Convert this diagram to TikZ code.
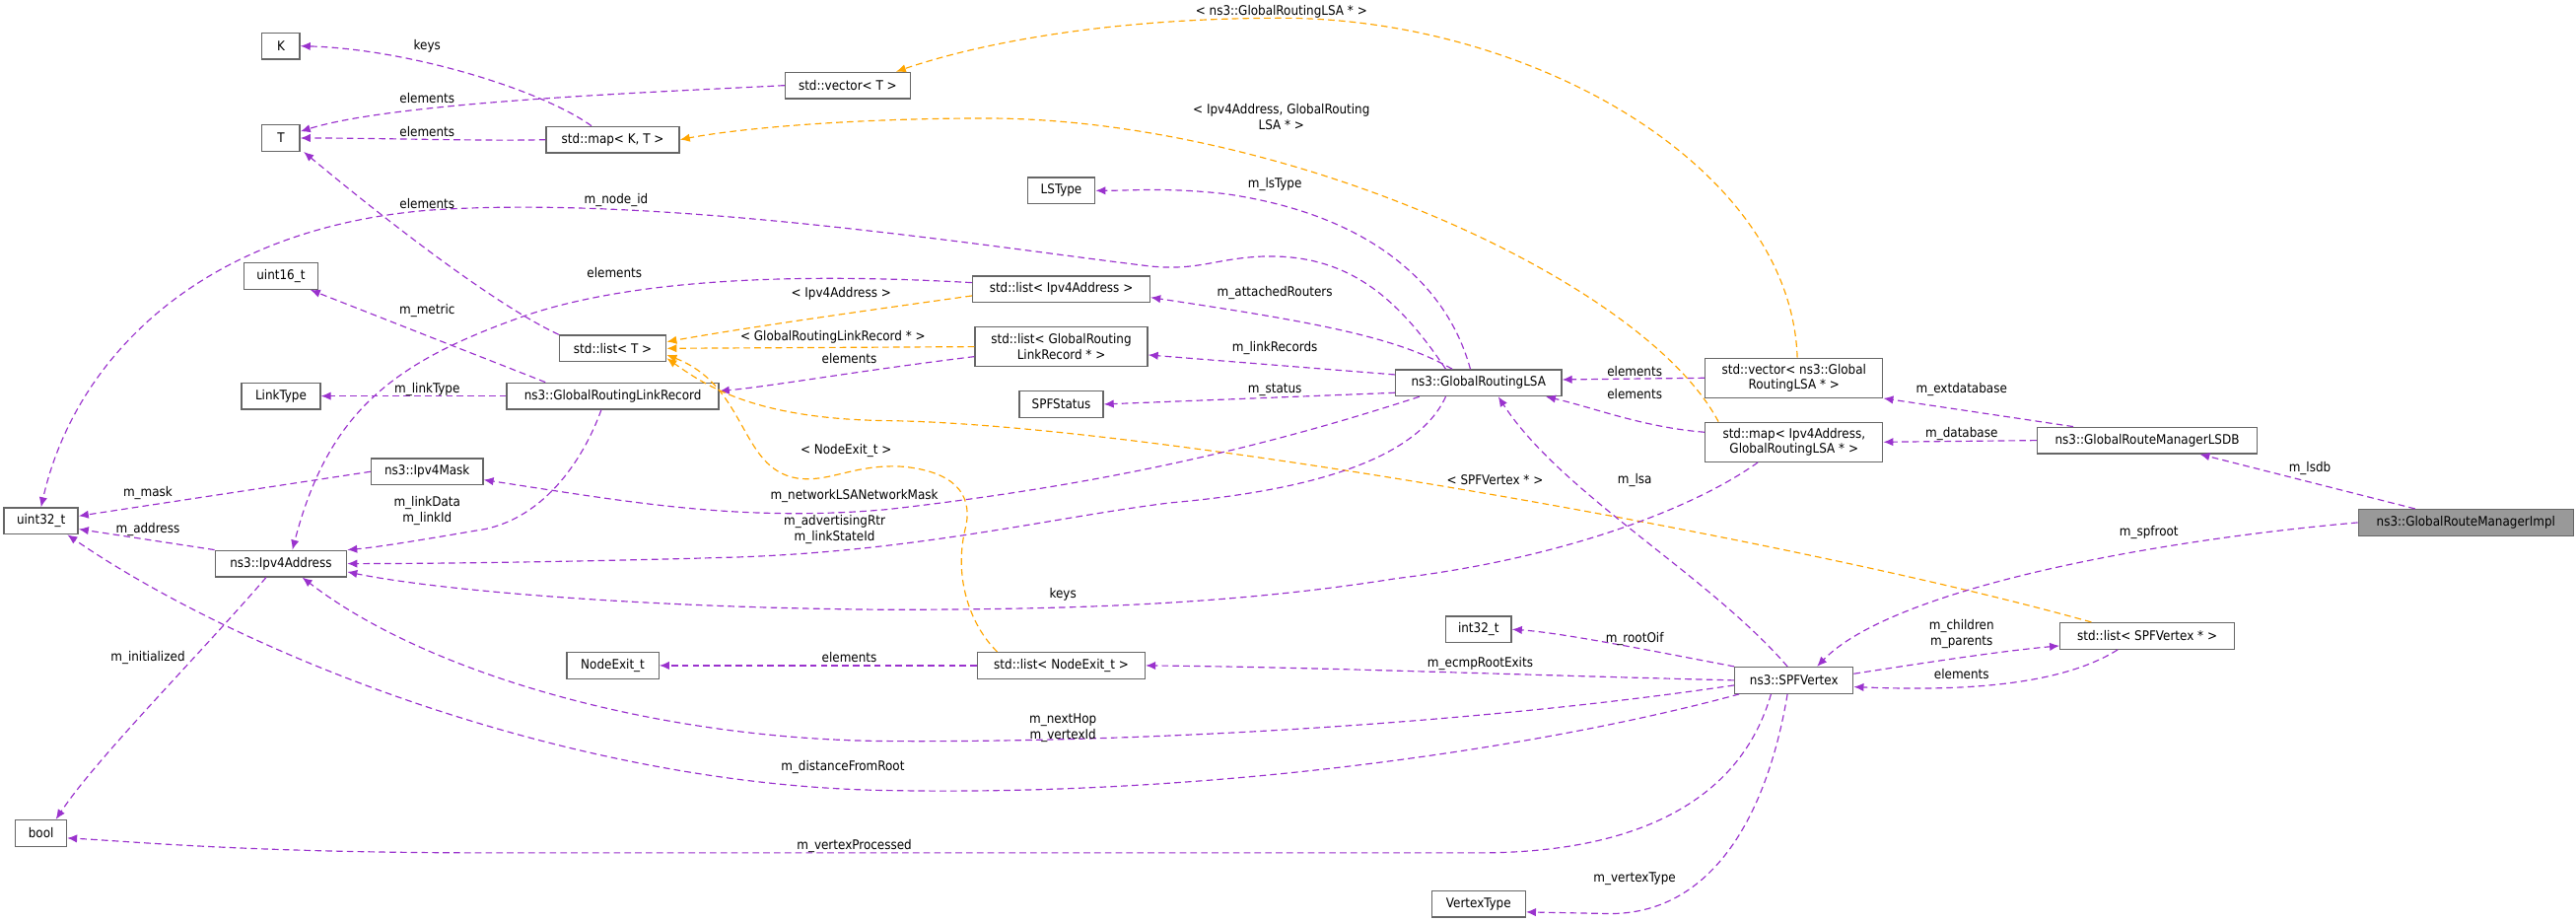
\documentclass[tikz,border=0pt]{standalone}
\usepackage{fontspec}
\setmainfont{DejaVu Sans Condensed}
\usetikzlibrary{arrows.meta}
\definecolor{purp}{HTML}{9A32CD}
\definecolor{orng}{HTML}{FFA500}
\definecolor{bord}{HTML}{666666}
\begin{document}
\begin{tikzpicture}[x=1pt,y=-1pt,
  box/.style={draw=bord,line width=0.8pt,fill=white,minimum height=16pt,inner sep=1pt,font=\fontsize{8}{9.5}\selectfont,align=center},
  lbl/.style={font=\fontsize{8}{9.5}\selectfont,align=center,inner sep=0pt},
  pe/.style={draw=purp,line width=0.7pt,dash pattern=on 4pt off 2.5pt,-{Latex[length=6pt,width=5pt,fill=purp]}},
  oe/.style={draw=orng,line width=0.7pt,dash pattern=on 4pt off 2.5pt,-{Latex[length=6pt,width=5pt,fill=orng]}}]
\useasboundingbox (0,0) rectangle (1568,561);
% nodes
\node[box,minimum width=23pt] (K) at (171,28) {K};
\node[box,minimum width=23pt] (T) at (171,84) {T};
\node[box,minimum width=76pt] (vecT) at (516,52) {std::vector< T >};
\node[box,minimum width=81pt] (mapKT) at (373,85) {std::map< K, T >};
\node[box,minimum width=41pt] (LSType) at (646,116) {LSType};
\node[box,minimum width=45pt] (uint16) at (171,168) {uint16\_t};
\node[box,minimum width=65pt] (listT) at (373,212) {std::list< T >};
\node[box,minimum width=108pt] (listIp) at (646,176) {std::list< Ipv4Address >};
\node[box,minimum width=105pt,minimum height=24pt] (listGR) at (646,211) {std::list< GlobalRouting\\LinkRecord * >};
\node[box,minimum width=48pt] (LinkType) at (171,241) {LinkType};
\node[box,minimum width=129pt] (GRLR) at (373,241) {ns3::GlobalRoutingLinkRecord};
\node[box,minimum width=51pt] (SPFStatus) at (646,246) {SPFStatus};
\node[box,minimum width=101pt] (LSA) at (900,233) {ns3::GlobalRoutingLSA};
\node[box,minimum width=108pt,minimum height=24pt] (vecLSA) at (1092,230) {std::vector< ns3::Global\\RoutingLSA * >};
\node[box,minimum width=108pt,minimum height=24pt] (mapLSA) at (1092,269) {std::map< Ipv4Address,\\GlobalRoutingLSA * >};
\node[box,minimum width=134pt] (LSDB) at (1307,268) {ns3::GlobalRouteManagerLSDB};
\node[box,minimum width=131pt,fill=black!40] (Impl) at (1501,318) {ns3::GlobalRouteManagerImpl};
\node[box,minimum width=45pt] (uint32) at (25,317) {uint32\_t};
\node[box,minimum width=68pt] (Ipv4Mask) at (260,287) {ns3::Ipv4Mask};
\node[box,minimum width=80pt] (Ipv4Addr) at (171,343) {ns3::Ipv4Address};
\node[box,minimum width=40pt] (int32) at (900,383) {int32\_t};
\node[box,minimum width=56pt] (NodeExit) at (373,405) {NodeExit\_t};
\node[box,minimum width=102pt] (listNE) at (646,405) {std::list< NodeExit\_t >};
\node[box,minimum width=106pt] (listSPF) at (1307,387) {std::list< SPFVertex * >};
\node[box,minimum width=72pt] (SPF) at (1092,414) {ns3::SPFVertex};
\node[box,minimum width=31pt] (bool) at (25,507) {bool};
\node[box,minimum width=57pt] (VertexType) at (900,550) {VertexType};
% edges
\draw[pe] ([xshift=-13pt]mapKT.north) .. controls (330,55) and (250,30) .. (K.east);
\draw[pe] (vecT.west) .. controls (400,56) and (240,62) .. ([yshift=4pt]T.east);
\draw[pe] (mapKT.west) .. controls (300,86) and (230,84) .. (T.east);
\draw[pe] (listT.north west) .. controls (300,185) and (230,130) .. ([xshift=2pt]T.south east);
\draw[pe] ([xshift=-20pt]LSA.north) .. controls (850,180) and (820,155) .. (770,156) .. controls (740,157) and (730,165) .. (700,162) .. controls (600,150) and (400,118) .. (260,128) .. controls (120,140) and (45,220) .. (uint32.north);
\draw[pe] ([yshift=4pt]listIp.west) .. controls (520,168) and (400,165) .. (320,192) .. controls (240,220) and (200,250) .. ([xshift=7pt]Ipv4Addr.north);
\draw[oe] ([yshift=-4pt]listIp.west) .. controls (520,190) and (450,200) .. ([yshift=4pt]listT.east);
\draw[oe] (listGR.west) -- (listT.east);
\draw[pe] ([yshift=-6pt]listGR.west) .. controls (520,226) and (470,235) .. ([yshift=3pt]GRLR.east);
\draw[oe] ([xshift=-39pt]listNE.north) .. controls (590,380) and (580,350) .. (588,320) .. controls (592,300) and (580,287) .. (550,284) .. controls (520,282) and (505,294) .. (485,291) .. controls (450,285) and (455,235) .. ([yshift=-4pt]listT.east);
\draw[oe] ([xshift=-34pt]listSPF.north) .. controls (1100,330) and (700,258) .. (540,256) .. controls (460,255) and (430,235) .. ([yshift=-6pt]listT.east);
\draw[pe] ([xshift=-41pt]GRLR.north) -- ([xshift=-5pt]uint16.south east);
\draw[pe] (GRLR.west) -- (LinkType.east);
\draw[pe] ([xshift=-7pt]GRLR.south) .. controls (355,280) and (330,318) .. (289,323) .. controls (260,328) and (230,333) .. (Ipv4Addr.north east);
\draw[pe] ([xshift=-36pt]LSA.south) .. controls (800,262) and (700,292) .. (540,310) .. controls (450,318) and (380,305) .. ([yshift=-5pt]Ipv4Mask.east);
\draw[pe] ([xshift=-20pt]LSA.south) .. controls (860,285) and (780,300) .. (712,306) .. controls (640,315) and (560,335) .. (450,339) .. controls (350,342) and (260,343) .. (Ipv4Addr.east);
\draw[pe] ([xshift=-22pt]mapLSA.south) .. controls (1030,310) and (950,340) .. (850,352) .. controls (750,368) and (650,371) .. (540,371) .. controls (400,370) and (270,360) .. ([yshift=-5pt]Ipv4Addr.east);
\draw[pe] ([yshift=-3pt]SPF.west) .. controls (900,440) and (700,452) .. (540,451) .. controls (400,450) and (260,410) .. ([xshift=13pt]Ipv4Addr.south);
\draw[pe] ([xshift=3pt]SPF.south west) .. controls (950,452) and (750,485) .. (540,481) .. controls (350,478) and (150,400) .. ([xshift=16pt]uint32.south);
\draw[pe] ([xshift=-14pt]SPF.south) .. controls (1060,485) and (1000,519) .. (900,519) -- (300,519) .. controls (150,519) and (80,512) .. ([yshift=-3pt]bool.east);
\draw[pe] ([xshift=-4pt]SPF.south) .. controls (1075,500) and (1040,556) .. (980,556) -- ([yshift=-5pt]VertexType.east);
\draw[pe] (SPF.north west) .. controls (1000,395) and (950,385) .. (int32.east);
\draw[pe] (SPF.west) .. controls (900,410) and (800,406) .. (listNE.east);
\draw[pe] (listNE.west) -- (NodeExit.east);
\draw[pe] ([xshift=-4pt]SPF.north) .. controls (1040,350) and (950,300) .. ([xshift=12pt]LSA.south);
\draw[pe] (Impl.west) .. controls (1300,330) and (1150,360) .. ([xshift=14pt]SPF.north);
\draw[pe] ([xshift=-31pt]Impl.north) -- ([xshift=32pt]LSDB.south);
\draw[pe] (LSDB.west) -- (mapLSA.east);
\draw[pe] ([xshift=-45pt]LSDB.north) -- (vecLSA.south east);
\draw[pe] ([yshift=4pt]SPF.east) .. controls (1180,402) and (1220,396) .. ([yshift=-6pt]listSPF.west);
\draw[pe] ([xshift=-18pt]listSPF.south) .. controls (1250,420) and (1180,420) .. ([yshift=-4pt]SPF.east);
\draw[pe] (vecLSA.west) -- ([yshift=2pt]LSA.east);
\draw[pe] ([yshift=6pt]mapLSA.west) .. controls (1000,260) and (970,248) .. ([xshift=-10pt]LSA.south east);
\draw[oe] ([xshift=2pt]vecLSA.north) .. controls (1090,100) and (930,11) .. (780,11) .. controls (680,11) and (600,25) .. ([xshift=-9pt]vecT.north east);
\draw[oe] ([xshift=-46pt]mapLSA.north) .. controls (1000,170) and (780,72) .. (600,72) .. controls (520,72) and (450,78) .. (mapKT.east);
\draw[pe] ([xshift=-5pt]LSA.north) .. controls (880,170) and (830,130) .. (746,118) .. controls (710,114) and (690,116) .. (LSType.east);
\draw[pe] ([xshift=-16pt]LSA.north) .. controls (850,205) and (800,196) .. ([yshift=-5pt]listIp.east);
\draw[pe] ([yshift=5pt]LSA.west) -- ([yshift=-5pt]listGR.east);
\draw[pe] ([yshift=-6pt]LSA.west) -- (SPFStatus.east);
\draw[pe] (Ipv4Mask.west) -- ([yshift=3pt]uint32.east);
\draw[pe] (Ipv4Addr.north west) -- ([yshift=-5pt]uint32.east);
\draw[pe] ([xshift=-9pt]Ipv4Addr.south) .. controls (120,400) and (60,460) .. ([xshift=9pt]bool.north);
% labels
\node[lbl] (l1) at (260,28) {keys};
\node[lbl] (l2) at (260,60) {elements};
\node[lbl] (l3) at (260,80) {elements};
\node[lbl] (l4) at (260,124) {elements};
\node[lbl] (l5) at (375,122) {m\_node\_id};
\node[lbl] (l6) at (374,166) {elements};
\node[lbl] (l7) at (512,179) {< Ipv4Address >};
\node[lbl] (l8) at (507,205) {< GlobalRoutingLinkRecord * >};
\node[lbl] (l9) at (517,218) {elements};
\node[lbl] (l10) at (515,274) {< NodeExit\_t >};
\node[lbl] (l11) at (910,292) {< SPFVertex * >};
\node[lbl] (l12) at (260,189) {m\_metric};
\node[lbl] (l13) at (260,237) {m\_linkType};
\node[lbl] (l14) at (260,311) {m\_linkData\\m\_linkId};
\node[lbl] (l15) at (520,302) {m\_networkLSANetworkMask};
\node[lbl] (l16) at (508,322) {m\_advertisingRtr\\m\_linkStateId};
\node[lbl] (l17) at (647,362) {keys};
\node[lbl] (l18) at (647,443) {m\_nextHop\\m\_vertexId};
\node[lbl] (l19) at (513,467) {m\_distanceFromRoot};
\node[lbl] (l20) at (520,515) {m\_vertexProcessed};
\node[lbl] (l21) at (995,535) {m\_vertexType};
\node[lbl] (l22) at (995,389) {m\_rootOif};
\node[lbl] (l23) at (901,404) {m\_ecmpRootExits};
\node[lbl] (l24) at (517,400) {elements};
\node[lbl] (l25) at (995,292) {m\_lsa};
\node[lbl] (l26) at (1308,324) {m\_spfroot};
\node[lbl] (l27) at (1406,285) {m\_lsdb};
\node[lbl] (l28) at (1194,264) {m\_database};
\node[lbl] (l29) at (1194,237) {m\_extdatabase};
\node[lbl] (l30) at (1194,386) {m\_children\\m\_parents};
\node[lbl] (l31) at (1194,410) {elements};
\node[lbl] (l32) at (995,226) {elements};
\node[lbl] (l33) at (995,240) {elements};
\node[lbl] (l34) at (780,7) {< ns3::GlobalRoutingLSA * >};
\node[lbl] (l35) at (780,71) {< Ipv4Address, GlobalRouting\\LSA * >};
\node[lbl] (l36) at (776,112) {m\_lsType};
\node[lbl] (l37) at (776,178) {m\_attachedRouters};
\node[lbl] (l38) at (776,212) {m\_linkRecords};
\node[lbl] (l39) at (776,237) {m\_status};
\node[lbl] (l40) at (90,300) {m\_mask};
\node[lbl] (l41) at (90,322) {m\_address};
\node[lbl] (l42) at (90,400) {m\_initialized};
\end{tikzpicture}
\end{document}
